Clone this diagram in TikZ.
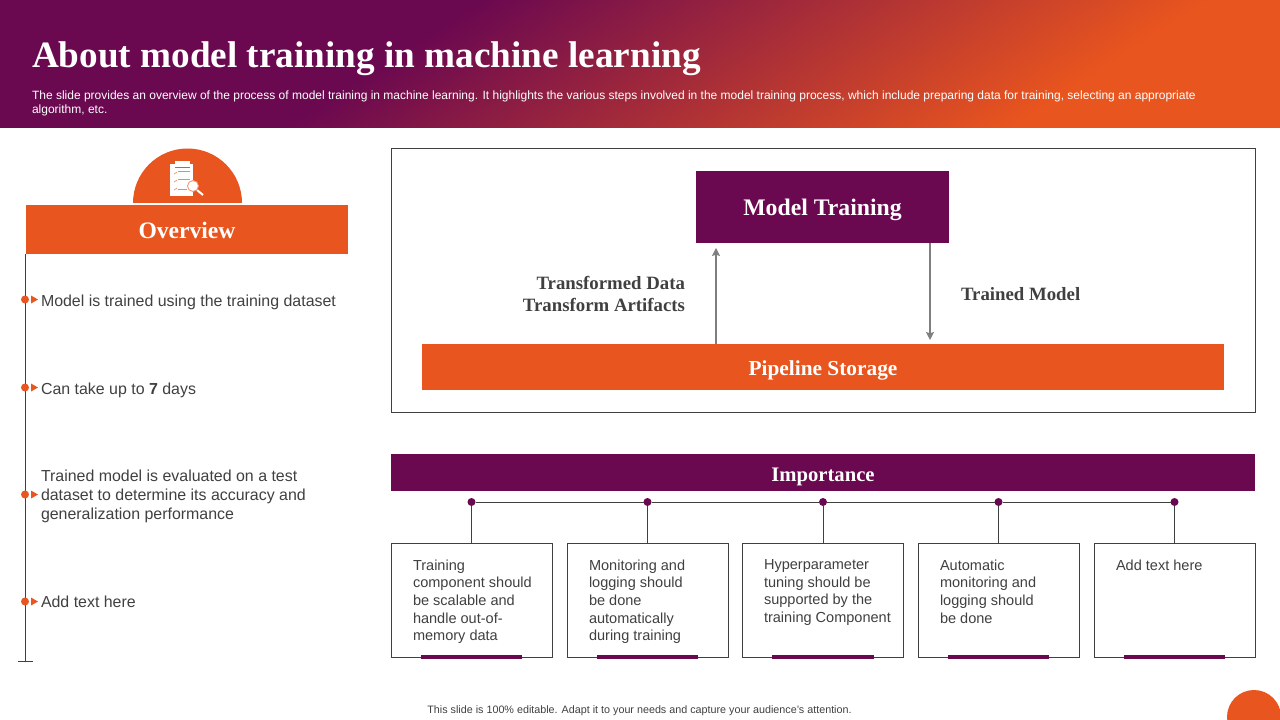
\documentclass[tikz,border=0pt]{standalone}
\usepackage{fontspec}
\setmainfont{Liberation Sans}
\newfontfamily\headfont{Liberation Serif}
\usetikzlibrary{arrows.meta,positioning,calc}
\definecolor{plum}{RGB}{106,8,80}
\definecolor{ember}{RGB}{233,85,30}
\definecolor{inkgrey}{RGB}{64,64,64}
\definecolor{arrowgrey}{RGB}{127,127,127}
\pgfdeclarehorizontalshading{bannerfade}{100bp}{color(0bp)=(plum); color(46.14bp)=(plum); color(53.86bp)=(ember); color(100bp)=(ember)}

\begin{document}
\begin{tikzpicture}[x=0.75pt,y=-0.75pt,>={Stealth[length=6pt,width=6pt,inset=1pt]},
  every node/.style={inner sep=0pt,outer sep=0pt},
  headbar/.style={fill=#1,text=white,font=\headfont\bfseries},
  frameline/.style={draw=black!75,line width=0.75pt},
  cardbox/.style={draw=black!75,line width=0.75pt,fill=white,minimum width=120.75pt,minimum height=85.5pt},
  cardtext/.style={anchor=north west,align=left,text=inkgrey,font=\fontsize{10.9}{13.3}\selectfont},
  pointtext/.style={anchor=west,align=left,text=inkgrey,font=\fontsize{11.95}{14.25}\selectfont},
  flowlabel/.style={text=inkgrey,font=\headfont\bfseries\fontsize{14.1}{16.5}\selectfont},
  flowarrow/.style={->,draw=arrowgrey,line width=0.9pt},
  link/.style={draw=inkgrey,line width=0.75pt},
  hubdot/.style={circle,fill=plum,minimum size=6pt},
  bulletdot/.style={circle,fill=ember,minimum size=6pt},
  bullethead/.style={fill=ember},
  cardfoot/.style={fill=plum}]
\useasboundingbox (0,0) rectangle (1280,720);
% banner
\begin{scope}
\clip (0,0) rectangle (1280,128);
\shade[shading=bannerfade,shading angle=-57] (-555,-1236) rectangle (2045,1364);
\end{scope}
\node[anchor=west,text=white,font=\headfont\bfseries\fontsize{27.9}{30}\selectfont] (title) at (32,59) {About model training in machine learning};
\node[anchor=north west,align=left,text=white,font=\fontsize{9}{10.5}\selectfont] (subtitle) at (32,91) {The slide provides an overview of the process of model training in machine learning. It highlights the various steps involved in the model training process, which include preparing data for training, selecting an appropriate\\algorithm, etc.};
% overview column
\fill[ember] (133,203) arc[start angle=180,end angle=360,radius=54.5] -- cycle;
\fill[white] (170,164) rectangle (193,196);
\fill[white] (175,161) rectangle (190,167);
\draw[ember,line width=0.4pt] (175,167) -- (190,167);
\draw[ember!70,line width=0.5pt] (178,171) -- (190,171);
\draw[ember!70,line width=0.5pt] (178,179) -- (190,179);
\draw[ember!70,line width=0.5pt] (178,189) -- (187,189);
\draw[ember!70,line width=0.5pt] (174,174) -- (177,172);
\draw[ember!70,line width=0.5pt] (174,182) -- (177,180);
\draw[ember!70,line width=0.5pt] (174,190) -- (177,188);
\draw[white,line width=1.5pt] (197,190) -- (203,195);
\draw[ember!60,fill=white,line width=0.7pt] (193,186) circle (5.5);
\node[headbar=ember,minimum width=241.5pt,minimum height=36.75pt,text height=13pt,font=\headfont\bfseries\fontsize{17.7}{20}\selectfont] (overview) at (187,229.5) {Overview};
\coordinate (railend) at (25.5,661);
\draw[link] (overview.south west -| railend) -- (railend);
\draw[link] (18,661) -- (33,661);
\node[bulletdot] (bulleta) at (25,299.5) {};
\node[bulletdot] (bulletb) at (25,387.5) {};
\node[bulletdot] (bulletc) at (25,494.5) {};
\node[bulletdot] (bulletd) at (25,601.5) {};
\fill[bullethead] (31,295.5) -- (38,299.5) -- (31,303.5) -- cycle;
\fill[bullethead] (31,383.5) -- (38,387.5) -- (31,391.5) -- cycle;
\fill[bullethead] (31,490.5) -- (38,494.5) -- (31,498.5) -- cycle;
\fill[bullethead] (31,597.5) -- (38,601.5) -- (31,605.5) -- cycle;
\node[pointtext] (pointa) at (41,302) {Model is trained using the training dataset};
\node[pointtext] (pointb) at (41,390) {Can take up to \textbf{7} days};
\node[pointtext] (pointc) at (41,496.5) {Trained model is evaluated on a test\\dataset to determine its accuracy and\\generalization performance};
\node[pointtext] (pointd) at (41,601.5) {Add text here};
% pipeline panel
\draw[frameline] (391.5,149) rectangle (1255.5,412);
\node[headbar=plum,minimum width=189.75pt,minimum height=54pt,text height=16pt,font=\headfont\bfseries\fontsize{17.8}{20}\selectfont] (train) at (822.5,207) {Model Training};
\node[headbar=ember,minimum width=601.5pt,minimum height=34.5pt,text height=16pt,font=\headfont\bfseries\fontsize{16}{18}\selectfont] (store) at (823,367) {Pipeline Storage};
\coordinate (upend) at (716,248);
\coordinate (downend) at (930,340);
\draw[flowarrow] (store.north -| upend) -- (upend);
\draw[flowarrow] (train.south -| downend) -- (downend);
\node[flowlabel,anchor=east,align=right] (inlabel) at (685,294) {Transformed Data\\Transform Artifacts};
\node[flowlabel,anchor=west] (outlabel) at (961,294) {Trained Model};
% importance row
\node[headbar=plum,minimum width=648pt,minimum height=27.75pt,text height=17.5pt,font=\headfont\bfseries\fontsize{15.5}{18}\selectfont] (importance) at (823,472.5) {Importance};
\node[hubdot] (huba) at (471.5,502) {};
\node[hubdot] (hubb) at (647.5,502) {};
\node[hubdot] (hubc) at (823,502) {};
\node[hubdot] (hubd) at (998.5,502) {};
\node[hubdot] (hube) at (1174.5,502) {};
\node[cardbox] (carda) at (471.5,600.5) {};
\node[cardbox] (cardb) at (647.5,600.5) {};
\node[cardbox] (cardc) at (823,600.5) {};
\node[cardbox] (cardd) at (998.5,600.5) {};
\node[cardbox] (carde) at (1174.5,600.5) {};
\draw[link] (huba) -- (hubb);
\draw[link] (hubb) -- (hubc);
\draw[link] (hubc) -- (hubd);
\draw[link] (hubd) -- (hube);
\draw[link] (huba) -- (carda);
\draw[link] (hubb) -- (cardb);
\draw[link] (hubc) -- (cardc);
\draw[link] (hubd) -- (cardd);
\draw[link] (hube) -- (carde);
\fill[cardfoot] (421,655) rectangle (522,659);
\fill[cardfoot] (597,655) rectangle (698,659);
\fill[cardfoot] (772,655) rectangle (874,659);
\fill[cardfoot] (948,655) rectangle (1049,659);
\fill[cardfoot] (1124,655) rectangle (1225,659);
\node[cardtext] (cardatext) at (413,559.5) {Training\\component should\\be scalable and\\handle out-of-\\memory data};
\node[cardtext] (cardbtext) at (589,559.5) {Monitoring and\\logging should\\be done\\automatically\\during training};
\node[cardtext] (cardctext) at (764,559.5) {Hyperparameter\\tuning should be\\supported by the\\training Component};
\node[cardtext] (carddtext) at (940,559.5) {Automatic\\monitoring and\\logging should\\be done};
\node[cardtext] (cardetext) at (1116,559.5) {Add text here};
% footer
\node[anchor=center,text=inkgrey,font=\fontsize{8.07}{9}\selectfont] (footer) at (639.5,711) {This slide is 100\% editable. Adapt it to your needs and capture your audience's attention.};
\fill[ember] (1254,717) circle (27);
\end{tikzpicture}
\end{document}
